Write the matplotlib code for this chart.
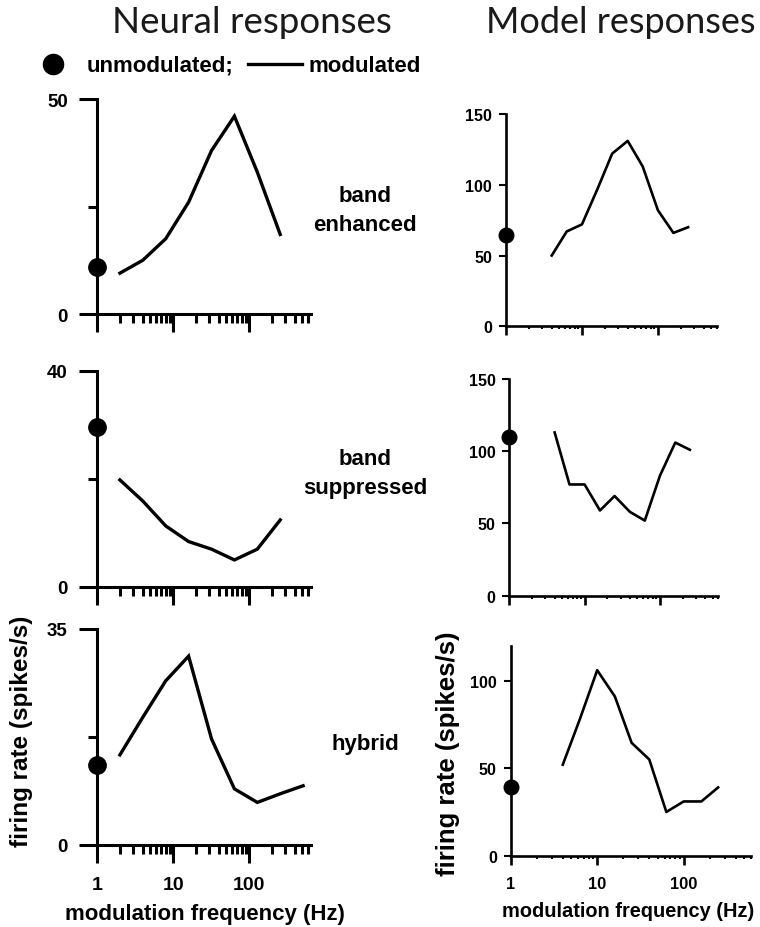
import numpy as np
import matplotlib
matplotlib.use("Agg")
import matplotlib.pyplot as plt
from matplotlib import font_manager
from matplotlib.lines import Line2D
from matplotlib.ticker import NullFormatter

# --- data ---
neural_freq = [2, 4, 8, 16, 32, 64, 128, 256]
enhanced_neural = [9.5, 12.5, 17.5, 26, 38, 46, 33, 18.5]
suppressed_neural = [19.8, 15.9, 11.3, 8.4, 7.0, 5.0, 7.0, 12.4]
hybrid_freq = [2, 4, 8, 16, 32, 64, 128, 256, 512]
hybrid_neural = [14.6, 20.7, 26.6, 30.6, 17.2, 9.1, 6.9, 8.3, 9.6]
unmod_neural = [11, 29.6, 13]
ymax_neural = [50, 40, 35]

model_freq = [4, 6.3, 10, 16, 25, 40, 63, 100, 160, 250]
enhanced_model = [50, 67, 72, 97, 122, 131, 113, 82, 66, 70]
suppressed_model = [113, 77, 77, 59, 69, 58, 52, 83, 106, 101]
hybrid_model = [52, 78, 106, 91, 64.5, 55, 25, 31, 31, 39]
unmod_model = [64.5, 109.7, 39]

row_names = ["band\nenhanced", "band\nsuppressed", "hybrid"]
freq_ticks = [1, 10, 100]
freq_labels = ["1", "10", "100"]
minor_freq = [2, 3, 4, 5, 6, 7, 8, 9, 20, 30, 40, 50, 60, 70, 80, 90,
              200, 300, 400, 500, 600]

plt.rcParams["font.family"] = ["Liberation Sans", "DejaVu Sans"]
plt.rcParams["font.weight"] = "bold"

try:
    font_manager.findfont(font_manager.FontProperties(family="Liberation Sans Narrow"),
                          fallback_to_default=False)
    narrow = "Liberation Sans Narrow"
    nscale = 1.0
except Exception:
    narrow = "Liberation Sans"
    nscale = 0.82

W, H = 760, 928
fig = plt.figure(figsize=(W / 100, H / 100), dpi=100)


def box(left, right, top, bottom):
    return [left / W, 1 - bottom / H, (right - left) / W, (bottom - top) / H]


def style_axes(ax, lw):
    ax.set_xscale("log")
    ax.spines["top"].set_visible(False)
    ax.spines["right"].set_visible(False)
    ax.spines["left"].set_linewidth(lw)
    ax.spines["bottom"].set_linewidth(lw)
    ax.set_xticks(freq_ticks)
    ax.set_xticks(minor_freq, minor=True)
    ax.xaxis.set_minor_formatter(NullFormatter())
    ax.patch.set_alpha(0)


# neural (left column)
left_boxes = [box(97, 311, 100, 315), box(97, 311, 371.7, 588), box(97, 311, 630, 846)]
left_freqs = [neural_freq, neural_freq, hybrid_freq]
left_rates = [enhanced_neural, suppressed_neural, hybrid_neural]
left_axes = []
for i in range(3):
    ax = fig.add_axes(left_boxes[i])
    style_axes(ax, 2.2)
    ax.set_xlim(1, 650)
    ax.set_ylim(0, ymax_neural[i])
    ax.plot(left_freqs[i], left_rates[i], color="k", lw=2.4, solid_joinstyle="miter")
    ax.plot([1], [unmod_neural[i]], "o", color="k", ms=12.5, clip_on=False, zorder=5)
    ax.set_yticks([0, ymax_neural[i]])
    ax.set_yticks([ymax_neural[i] / 2], minor=True)
    ax.yaxis.set_minor_formatter(NullFormatter())
    ax.tick_params(which="major", direction="out", length=13, width=2.2, pad=8, labelsize=13.5)
    ax.tick_params(which="minor", direction="out", length=6.5, width=2.2)
    if i == 2:
        ax.set_xticklabels(freq_labels)
        ax.tick_params(axis="x", which="major", labelsize=14, pad=9)
    else:
        ax.set_xticklabels([])
    left_axes.append(ax)
    fig.text(365 / W, 1 - [211, 474, 745][i] / H, row_names[i], ha="center", va="center",
             fontsize=16, fontweight="bold", linespacing=1.5)

bl = left_axes[2]
bl.set_xlabel("modulation frequency (Hz)", fontsize=16, fontweight="bold")
bl.xaxis.set_label_coords(0.505, -0.27)
bl.set_ylabel("firing rate (spikes/s)", fontsize=17.5, fontweight="bold")
bl.yaxis.set_label_coords(-0.30, 0.53)

# model (right column)
right_boxes = [box(506, 717, 115, 327.3), box(509.3, 718.5, 380, 596.7), box(510.7, 751, 646.7, 856.7)]
right_rates = [enhanced_model, suppressed_model, hybrid_model]
right_ymax = [150, 150, 120]
right_axes = []
for i in range(3):
    ax = fig.add_axes(right_boxes[i])
    style_axes(ax, 1.9)
    ax.set_xlim(1, 600)
    ax.set_ylim(0, right_ymax[i])
    ax.plot(model_freq, right_rates[i], color="k", lw=1.9)
    ax.plot([1], [unmod_model[i]], "o", color="k", ms=10.5, clip_on=False, zorder=5)
    ax.set_yticks([0, 50, 100, 150] if right_ymax[i] == 150 else [0, 50, 100])
    ax.tick_params(axis="y", which="major", direction="out", length=5, width=1.5, pad=5,
                   labelsize=14.2 * nscale)
    ax.tick_params(axis="x", which="major", direction="out", length=6.5, width=1.9)
    ax.tick_params(axis="x", which="minor", direction="out", length=2.5, width=1.5)
    if i == 2:
        ax.set_xticklabels(freq_labels)
        ax.tick_params(axis="x", which="major", labelsize=14.5 * nscale, pad=8)
        for lab in ax.get_xticklabels():
            lab.set_family([narrow, "Liberation Sans"])
    else:
        ax.set_xticklabels([])
    for lab in ax.get_yticklabels():
        lab.set_family([narrow, "Liberation Sans"])
    right_axes.append(ax)

br = right_axes[2]
br.set_xlabel("modulation frequency (Hz)", fontsize=17.6 * nscale, fontweight="bold",
              family=[narrow, "Liberation Sans"])
br.xaxis.set_label_coords(0.49, -0.216)
br.set_ylabel("firing rate (spikes/s)", fontsize=18.5, fontweight="bold")
br.yaxis.set_label_coords(-0.21, 0.49)

# column titles
fig.text(252 / W, 1 - 33 / H, "Neural responses", ha="center", va="baseline",
         fontsize=26.5, fontweight="normal", family=["Lato", "DejaVu Sans"], color="#1a1a1a")
fig.text(755 / W, 1 - 33 / H, "Model responses", ha="right", va="baseline",
         fontsize=26, fontweight="normal", family=["Lato", "DejaVu Sans"], color="#1a1a1a")

# key row
fig.add_artist(Line2D([53 / W], [1 - 65 / H], marker="o", ms=14.5, color="k",
                      transform=fig.transFigure))
fig.text(87 / W, 1 - 66 / H, "unmodulated;", ha="left", va="center", fontsize=16, fontweight="bold")
fig.add_artist(Line2D([248 / W, 302 / W], [1 - 65 / H, 1 - 65 / H], lw=2.4, color="k",
                      transform=fig.transFigure))
fig.text(308 / W, 1 - 66 / H, "modulated", ha="left", va="center", fontsize=16, fontweight="bold")

fig.savefig("out.png", dpi=100)
